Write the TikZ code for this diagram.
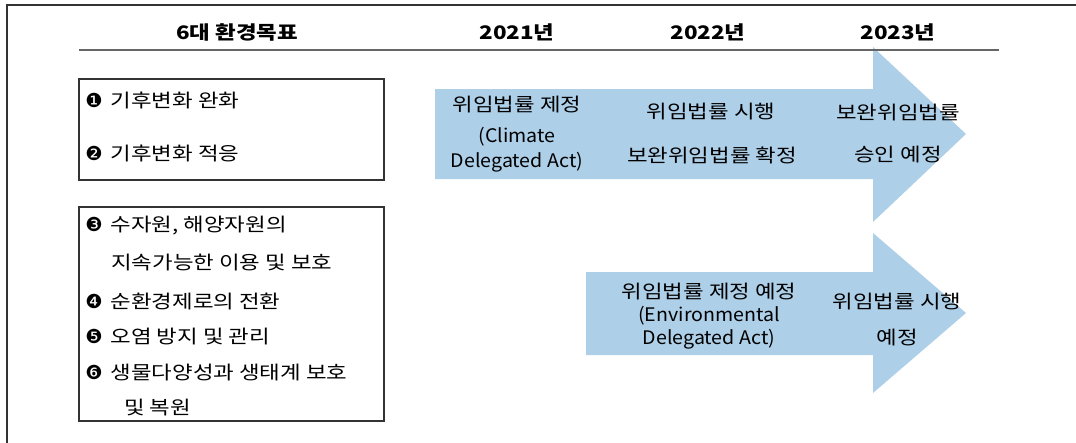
\documentclass[tikz,border=0pt]{standalone}
\usepackage{fontspec}
\setmainfont[FakeStretch=1.2]{Noto Sans CJK KR}
\newfontfamily\latinfont[FakeStretch=1.05]{Noto Sans CJK KR}
\newfontfamily\bulletfont{DejaVu Sans}
\usetikzlibrary{positioning}

\definecolor{arrowblue}{RGB}{174,207,232}
\newcommand{\goalno}[1]{\makebox[19pt][l]{\bulletfont\fontsize{14.5}{14.5}\selectfont #1}}

\begin{document}
\begin{tikzpicture}[x=0.75pt,y=-0.75pt,
headtext/.style={inner sep=0pt,font=\bfseries\fontsize{14}{16}\selectfont},
item/.style={anchor=west,inner sep=0pt,font=\fontsize{14}{16}\selectfont},
acttext/.style={inner sep=0pt,font=\fontsize{14}{16}\selectfont},
goalbox/.style={draw=black!80,line width=1.4pt},
timearrow/.style={fill=arrowblue}]

\useasboundingbox (0,0) rectangle (1076,443);
\draw[line width=1.5pt,black!80] (7,460) -- (7,5) -- (1090,5);

% arrows
\fill[timearrow] (435,89) -- (873,89) -- (873,47) -- (966,134) -- (873,222) -- (873,179) -- (435,179) -- cycle;
\fill[timearrow] (586,272) -- (873,272) -- (873,233) -- (966,313) -- (873,393) -- (873,355) -- (586,355) -- cycle;

% header
\draw[line width=2pt,black!60] (79,50) -- (999,50);
\node[headtext] (goals) at (237,32) {6대 환경목표};
\node[headtext] (y21) at (517,32) {2021년};
\node[headtext] (y22) at (708,32) {2022년};
\node[headtext] (y23) at (898,32) {2023년};

% goal boxes
\draw[goalbox] (79,79) rectangle (384,180);
\node[item] (g1) at (85,100) {\goalno{❶}기후변화 완화};
\node[item] (g2) at (85,153) {\goalno{❷}기후변화 적응};

\draw[goalbox] (79,207) rectangle (384,421);
\node[item] (g3) at (85,226) {\goalno{❸}수자원, 해양자원의};
\node[item] (g3b) at (111,263) {지속가능한 이용 및 보호};
\node[item] (g4) at (85,301) {\goalno{❹}순환경제로의 전환};
\node[item] (g5) at (85,337) {\goalno{❺}오염 방지 및 관리};
\node[item] (g6) at (85,373) {\goalno{❻}생물다양성과 생태계 보호};
\node[item] (g6b) at (124,408) {및 복원};

% climate delegated act
\node[acttext] (c1) at (517,105) {위임법률 제정};
\node[acttext] (c1b) at (517,137) {\latinfont (Climate};
\node[acttext] (c1c) at (517,162) {\latinfont Delegated Act)};
\node[acttext] (c2) at (711,112) {위임법률 시행};
\node[acttext] (c2b) at (712,155) {보완위임법률 확정};
\node[acttext] (c3) at (898,113) {보완위임법률};
\node[acttext] (c3b) at (898,155) {승인 예정};

% environmental delegated act
\node[acttext] (e1) at (709,292) {위임법률 제정 예정};
\node[acttext] (e1b) at (709,316) {\latinfont (Environmental};
\node[acttext] (e1c) at (709,339) {\latinfont Delegated Act)};
\node[acttext] (e2) at (897,302) {위임법률 시행};
\node[acttext] (e2b) at (897,338) {예정};

\end{tikzpicture}
\end{document}
